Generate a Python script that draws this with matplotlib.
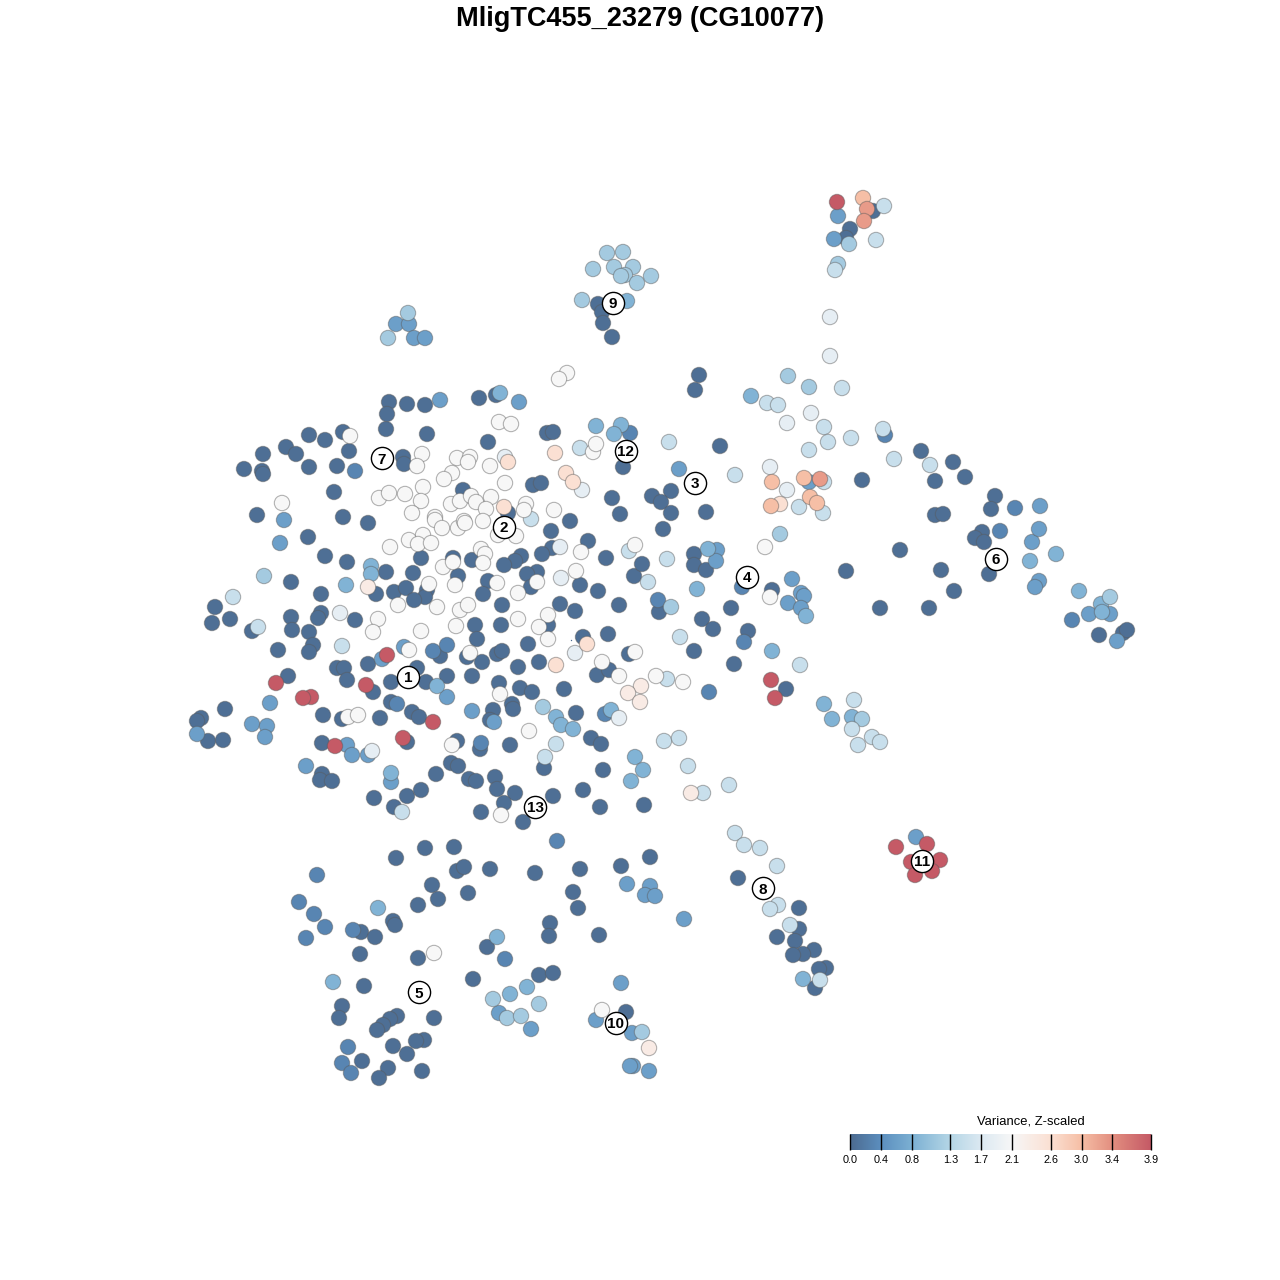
import numpy as np
import matplotlib
matplotlib.use('Agg')
import matplotlib.pyplot as plt
from matplotlib.colors import LinearSegmentedColormap

plt.rcParams['font.family'] = ['Liberation Sans', 'DejaVu Sans']

title = 'MligTC455_23279 (CG10077)'
legend_title = 'Variance, Z-scaled'

# embedding positions of the cells, grouped by their scaled variance
var_00 = [(309,435),(325,440),(343,432),(286,447),(296,454),(263,454),(349,451),(244,469),(262,471),(263,474),
          (309,467),(337,466),(334,492),(257,515),(343,517),(368,523),(308,537),(325,556),(347,562),(291,582),
          (321,594),(215,607),(230,619),(212,623),(252,631),(291,617),(292,630),(321,613),(318,618),(309,632),
          (313,645),(309,652),(278,650),(355,620),(368,664),(337,668),(344,668),(347,680),(391,682),(288,676),
          (373,692),(391,702),(225,709),(323,715),(342,719),(380,718),(412,712),(419,717),(201,718),(197,721),
          (208,741),(223,740),(322,743),(407,742),(322,774),(320,780),(332,781),(374,798),(407,796),(421,790),
          (394,807),(386,429),(427,434),(488,442),(547,433),(553,432),(403,457),(404,464),(623,467),(463,490),
          (533,485),(541,483),(612,498),(620,514),(508,513),(570,521),(551,531),(588,541),(552,548),(542,554),
          (521,556),(515,561),(504,565),(421,558),(453,558),(472,560),(606,558),(386,572),(413,573),(458,576),
          (537,572),(527,574),(488,581),(531,587),(634,576),(642,564),(580,585),(598,591),(483,594),(376,594),
          (394,592),(406,588),(427,590),(425,597),(414,600),(502,605),(560,604),(575,611),(619,605),(475,625),
          (501,625),(548,625),(477,639),(583,637),(608,634),(528,644),(440,656),(467,657),(497,654),(502,651),
          (482,662),(539,662),(518,667),(417,668),(426,682),(447,676),(472,676),(499,683),(597,675),(609,670),
          (629,654),(520,688),(532,692),(564,689),(389,402),(387,414),(407,404),(425,405),(479,398),(496,395),
          (493,710),(490,720),(512,704),(513,709),(576,713),(457,741),(480,749),(510,745),(591,738),(601,744),
          (544,768),(451,763),(458,766),(436,774),(469,779),(476,781),(495,777),(497,789),(515,793),(504,803),
          (553,796),(583,790),(603,770),(600,807),(644,805),(481,812),(523,822),(699,375),(695,390),(720,446),
          (862,480),(671,491),(652,496),(661,502),(671,513),(706,512),(663,529),(694,554),(694,565),(706,570),
          (846,571),(900,550),(772,590),(659,612),(731,608),(702,619),(713,629),(748,631),(694,651),(734,664),
          (786,689),(873,211),(850,229),(846,238),(598,304),(602,312),(603,323),(612,337),(921,451),(953,462),
          (935,481),(965,477),(995,496),(991,509),(935,515),(943,514),(982,532),(975,538),(984,542),(941,570),
          (989,574),(954,591),(929,608),(880,608),(1099,635),(1123,633),(1127,630),(425,848),(454,847),(396,858),
          (457,871),(464,867),(490,869),(535,873),(580,869),(432,885),(573,892),(468,893),(438,899),(418,905),
          (393,921),(395,925),(361,932),(375,937),(578,908),(550,923),(549,936),(487,947),(360,954),(418,958),
          (364,986),(473,979),(539,975),(553,973),(342,1006),(339,1018),(434,1018),(397,1016),(390,1019),(383,1025),
          (377,1030),(424,1040),(416,1041),(393,1046),(407,1054),(362,1061),(388,1068),(379,1078),(422,1071),
          (650,857),(621,866),(599,935),(626,1012),(738,878),(799,908),(799,929),(777,937),(795,941),(814,950),
          (803,954),(793,955),(826,968),(819,969),(815,988)]
var_03 = [(355,471),(433,651),(447,645),(397,704),(481,743),(605,714),(557,841),(317,875),(299,902),(314,914),
          (325,927),(353,930),(306,938),(505,959),(348,1047),(342,1063),(351,1073),(744,642),(742,587),(658,600),
          (885,435),(1015,508),(1000,531),(1072,620),(630,433),(709,692)]
var_06 = [(284,520),(280,543),(404,647),(382,659),(270,703),(252,724),(267,726),(197,734),(265,737),(347,745),
          (352,755),(368,755),(306,766),(391,782),(447,697),(472,711),(494,722),(396,324),(409,324),(414,338),
          (425,338),(440,400),(519,402),(679,469),(809,482),(717,550),(716,561),(792,579),(801,593),(804,596),
          (788,603),(801,608),(838,216),(834,239),(1040,506),(1032,542),(1039,581),(1035,587),(1039,529),(1089,614),
          (1110,614),(1117,641),(627,884),(650,886),(645,895),(655,896),(684,919),(621,983),(596,1020),(632,1033),
          (633,1066),(630,1066),(649,1071),(499,1013),(531,1029),(916,837)]
var_085 = [(371,566),(371,574),(346,585),(391,773),(437,686),(556,717),(561,725),(573,729),(611,710),(596,426),
           (621,425),(614,434),(500,393),(627,301),(751,396),(708,549),(697,589),(806,616),(772,651),(824,704),
           (832,719),(852,717),(635,757),(643,770),(631,781),(378,908),(497,937),(333,982),(527,987),(510,994),
           (803,979),(1056,554),(1030,561),(1079,591),(1101,604),(1102,612)]
var_115 = [(264,576),(543,707),(408,313),(388,338),(582,300),(607,253),(623,252),(593,269),(614,267),(633,267),
           (625,275),(621,276),(637,283),(651,276),(788,376),(809,387),(780,534),(671,607),(862,719),(849,244),
           (838,264),(493,999),(539,1004),(507,1018),(521,1016),(642,1032),(1110,597)]
var_15 = [(233,597),(258,627),(342,646),(402,812),(664,741),(556,744),(545,757),(531,519),(580,448),(629,551),
          (842,388),(767,403),(778,405),(824,427),(828,442),(851,438),(809,450),(883,429),(894,459),(669,442),
          (735,475),(824,482),(799,507),(823,513),(667,559),(648,582),(680,637),(800,665),(667,679),(854,700),
          (852,729),(872,737),(880,742),(858,745),(679,738),(688,766),(729,785),(703,793),(884,206),(876,240),
          (835,270),(930,465),(735,833),(744,845),(760,848),(777,866),(778,905),(770,909),(790,925),(820,980)]
var_185 = [(340,613),(372,751),(619,718),(505,457),(582,490),(560,547),(561,578),(575,653),(811,413),(787,423),
           (770,467),(787,490),(830,317),(830,356)]
var_21 = [(282,503),(350,436),(378,619),(373,632),(398,605),(409,650),(348,717),(358,715),(500,694),(529,731),
          (452,745),(501,815),(434,953),(602,1010),(770,597),(765,547),(635,545),(635,652),(602,662),(619,676),
          (656,676),(683,682),(567,373),(559,379),(499,422),(511,424),(593,452),(596,444),(422,454),(417,466),
          (457,458),(470,457),(468,462),(452,473),(444,479),(490,466),(505,483),(423,487),(379,498),(389,493),
          (405,494),(421,501),(412,513),(451,504),(460,501),(471,496),(476,502),(491,497),(486,509),(526,504),
          (524,510),(554,510),(435,517),(435,520),(442,528),(458,528),(464,521),(465,523),(483,521),(498,535),
          (516,536),(423,535),(409,540),(418,544),(431,543),(390,547),(481,549),(485,554),(483,563),(443,567),
          (453,562),(497,583),(429,584),(455,585),(518,593),(537,582),(581,552),(576,571),(548,615),(539,627),
          (548,639),(437,607),(460,610),(468,605),(518,619),(456,626),(421,631),(470,653)]
var_235 = [(368,587),(641,686),(628,693),(640,702),(691,793),(649,1048)]
var_26 = [(508,462),(504,507),(555,453),(566,473),(573,482),(587,644),(556,665),(780,504)]
var_30 = [(772,482),(804,478),(771,506),(810,497),(817,503),(863,198)]
var_33 = [(820,479),(867,209),(864,221)]
var_39 = [(837,202),(387,655),(366,685),(276,683),(311,697),(303,698),(771,680),(775,698),(433,722),(335,746),
          (403,738),(896,847),(927,844),(940,860),(911,862),(932,871),(915,875)]

groups = [(0.05, var_00), (0.3, var_03), (0.6, var_06), (0.85, var_085), (1.15, var_115), (1.5, var_15),
          (1.85, var_185), (2.1, var_21), (2.35, var_235), (2.6, var_26), (3.0, var_30), (3.3, var_33),
          (3.9, var_39)]

# single speck near the centre of the map
speck_x = [571]
speck_y = [640]

# cluster labels
cluster_ids = ['1', '2', '3', '4', '5', '6', '7', '8', '9', '10', '11', '12', '13']
cluster_x = [408, 504, 695, 747, 419, 996, 382, 763, 613, 616, 922, 626, 535]
cluster_y = [677, 527, 483, 577, 992, 559, 458, 888, 303, 1023, 861, 451, 807]

# legend scale
legend_ticks = [0.0, 0.4, 0.8, 1.3, 1.7, 2.1, 2.6, 3.0, 3.4, 3.9]
legend_colors = ['#4c6b90', '#5c8fbf', '#7cb0d3', '#b5d6e6', '#dce9f2', '#f7f7f7',
                 '#fbe0d3', '#f6bfa6', '#e38f80', '#c55a66']

cmap = LinearSegmentedColormap.from_list(
    'variance', [(t / 3.9, c) for t, c in zip(legend_ticks, legend_colors)])

fig = plt.figure(figsize=(12.8, 12.8), dpi=100)
ax = fig.add_axes([0, 0, 1, 1])
ax.set_xlim(0, 1280)
ax.set_ylim(1280, 0)
ax.axis('off')

# cells, low variance underneath
xs = [p[0] for v, pts in groups for p in pts]
ys = [p[1] for v, pts in groups for p in pts]
vs = [v for v, pts in groups for p in pts]
ax.scatter(xs, ys, c=vs, cmap=cmap, vmin=0, vmax=3.9, s=122,
           edgecolors=(0.35, 0.35, 0.35, 0.45), linewidths=0.8, zorder=2)
ax.scatter(speck_x, speck_y, s=1, c='#4c6b90', linewidths=0, zorder=2)

# cluster markers
ax.scatter(cluster_x, cluster_y, s=255, facecolors='white', edgecolors='black',
           linewidths=1.0, zorder=3)
for name, x, y in zip(cluster_ids, cluster_x, cluster_y):
    ax.text(x, y, name, ha='center', va='center_baseline', fontsize=11,
            fontweight='bold', color='black', zorder=4)

ax.text(640, 18.5, title, ha='center', va='center', fontsize=19.5, fontweight='bold')

# colour scale
cax = fig.add_axes([850 / 1280, 1 - 1150 / 1280, 301 / 1280, 16 / 1280])
gradient = np.linspace(0, 3.9, 512).reshape(1, -1)
cax.imshow(gradient, cmap=cmap, aspect='auto', extent=[0, 3.9, 0, 1], vmin=0, vmax=3.9)
cax.vlines(legend_ticks, 0, 1, color='black', linewidth=1.0, clip_on=False)
cax.set_yticks([])
cax.set_xticks(legend_ticks)
cax.set_xticklabels(['%.1f' % t for t in legend_ticks], fontsize=7.8)
cax.tick_params(axis='x', length=0, pad=3.3)
for spine in cax.spines.values():
    spine.set_visible(False)
ax.text(1031, 1122, legend_title, ha='center', va='center', fontsize=9.4)

fig.savefig('out.png', dpi=100)
